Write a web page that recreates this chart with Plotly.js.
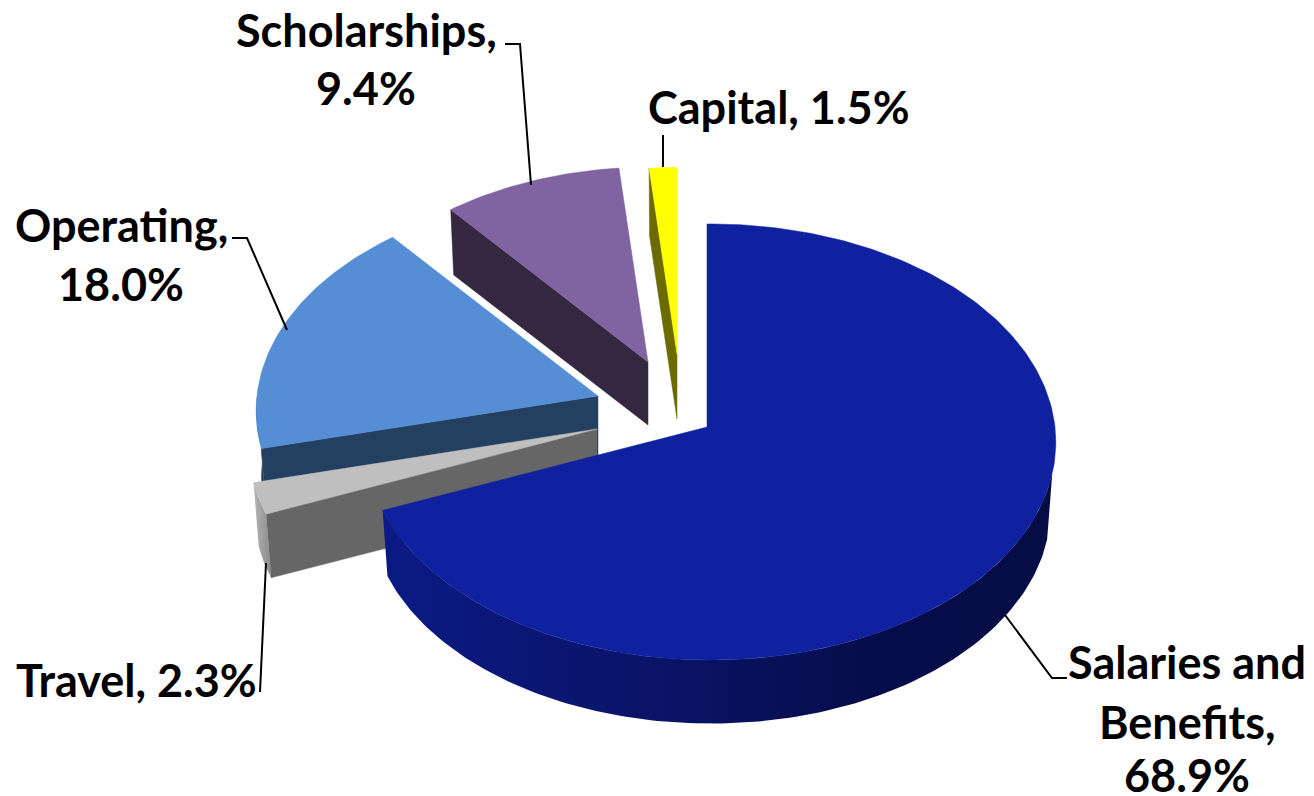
<!DOCTYPE html>
<html>
<head>
<meta charset="utf-8">
<script src="https://cdn.plot.ly/plotly-3.0.1.min.js"></script>
<style>html,body{margin:0;padding:0;background:#fff;overflow:hidden}</style>
</head>
<body>
<div id="chart" style="width:1314px;height:796px"></div>
<script>
// ---- data ----
const categories = ["Salaries and Benefits", "Travel", "Operating", "Scholarships", "Capital"];
const shares = [68.9, 2.3, 18.0, 9.4, 1.5];

// ---- styling ----
const topColors = ["#0f219f", "#bfbfbf", "#558ed5", "#8064a2", "#ffff00"];
const faceColors = ["#0a1670", "#666666", "#244061", "#35273f", "#6b6b00"];
const rimColors = [
  [[0, "#0b1a84"], [0.45, "#0a1364"], [0.75, "#060c48"], [1, "#060d45"]],
  [[0, "#b5b5b5"], [1, "#8a8a8a"]],
  [[0, "#244061"], [1, "#244061"]],
  [[0, "#35273f"], [1, "#35273f"]],
  [[0, "#6b6b00"], [1, "#6b6b00"]]
];

// ---- projection of the exploded 3-D pie onto the page ----
const apexX = [707, 597, 598, 648, 677];
const apexY = [427, 429, 396, 362, 354];
const radiusScale = [1, 1.02, 1, 0.96, 0.92];
const depths = [67, 65, 65, 63, 65];
const showFace = [false, true, true, true, true];
const rimFrom = [102, null, null, null, null];
const RX = 344.5, RY = 217, PERSPECTIVE = 0.0688, LEAN = 0.01, BOTTOM_SCALE = 0.985;

function rimPoint(i, deg, lower) {
  const t = deg * Math.PI / 180;
  const s = radiusScale[i] / (1 + PERSPECTIVE * Math.cos(t) - LEAN * Math.sin(t)) * (lower ? BOTTOM_SCALE : 1);
  return [apexX[i] + RX * Math.sin(t) * s,
          apexY[i] - RY * Math.cos(t) * s + (lower ? depths[i] : 0)];
}
function arc(i, a, b, lower) {
  const pts = [], n = Math.max(2, Math.ceil(Math.abs(b - a)));
  for (let k = 0; k <= n; k++) pts.push(rimPoint(i, a + (b - a) * k / n, lower));
  return pts;
}
function polygon(pts, name, extra) {
  return Object.assign({
    type: "scatter", mode: "lines", name: name, hoverinfo: "name",
    x: pts.map(p => p[0]), y: pts.map(p => p[1]),
    fill: "toself", showlegend: false
  }, extra);
}

const total = shares.reduce((a, b) => a + b, 0);
let cum = 0;
const bounds = shares.map(v => { const a = cum / total * 360; cum += v; return [a, cum / total * 360]; });

const traces = [];
[4, 3, 2, 1, 0].forEach(i => {
  const [a, b] = bounds[i];
  const apex = [apexX[i], apexY[i]];
  const apexLow = [apexX[i], apexY[i] + depths[i]];
  if (showFace[i]) {
    const f = [apex, rimPoint(i, a, false), rimPoint(i, a, true), apexLow, apex];
    traces.push(polygon(f, categories[i], {
      fillcolor: faceColors[i], line: {color: faceColors[i], width: 0.5}
    }));
  }
  // outer wall: only the part that faces the viewer
  const from = rimFrom[i] !== null ? Math.max(rimFrom[i], a) : a;
  const to = Math.min(b, 270);
  if (to > from) {
    const upper = arc(i, from, to, false), lower = arc(i, to, from, true);
    traces.push(polygon(upper.concat(lower, [upper[0]]), categories[i], {
      fillgradient: {type: "horizontal", colorscale: rimColors[i]},
      line: {width: 0}
    }));
  }
  // top surface
  const top = [apex].concat(arc(i, a, b, false), [apex]);
  traces.push(polygon(top, categories[i], {
    fillcolor: topColors[i], line: {color: topColors[i], width: 0.5}
  }));
});

// ---- leader lines ----
const leaderX = [[1067, 1052, 1005], [260, 266], [232, 247, 287], [505, 520, 531], [663, 663]];
const leaderY = [[678, 678, 615], [692, 563], [238, 238, 330], [44, 44, 185], [135, 167]];
leaderX.forEach((xs, i) => traces.push({
  type: "scatter", mode: "lines", x: xs, y: leaderY[i], hoverinfo: "skip", showlegend: false,
  line: {color: "#000000", width: 2}
}));

// ---- data labels, one annotation per line ----
const labelLines = [
  ["Salaries and", "Benefits,", "%"],
  ["Travel, %"],
  ["Operating,", "%"],
  ["Scholarships,", "%"],
  ["Capital, %"]
];
const labelX = [1187, 136, 121, 366, 779];
const labelY = [[662, 722, 775], [680], [225, 284], [30, 88], [107]];
const annotations = [];
labelLines.forEach((lines, i) => lines.forEach((t, j) => annotations.push({
  xref: "x", yref: "y", x: labelX[i], y: labelY[i][j], showarrow: false,
  xanchor: "center", yanchor: "middle",
  text: t.replace("%", shares[i].toFixed(1) + "%"),
  font: {family: "Lato, 'Open Sans', sans-serif", size: 45, color: "#000000", weight: 700}
})));

Plotly.newPlot("chart", traces, {
  width: 1314, height: 796,
  margin: {l: 0, r: 0, t: 0, b: 0},
  paper_bgcolor: "#ffffff", plot_bgcolor: "#ffffff",
  xaxis: {range: [0, 1314], visible: false, fixedrange: true},
  yaxis: {range: [796, 0], visible: false, fixedrange: true},
  annotations: annotations,
  showlegend: false
}, {displayModeBar: false, responsive: false});
</script>
</body>
</html>
